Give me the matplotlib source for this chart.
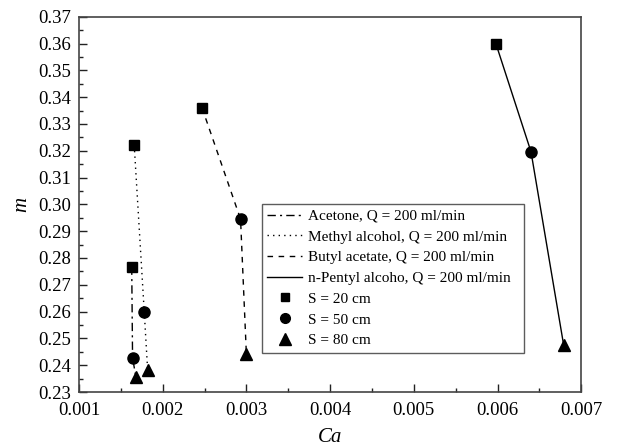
import matplotlib
matplotlib.use("Agg")
import matplotlib.pyplot as plt
from matplotlib.lines import Line2D
from matplotlib.ticker import MultipleLocator

# S = 20, 50, 80 cm for each liquid
acetone_ca = [0.00163, 0.00164, 0.00168]
acetone_m = [0.2768, 0.2428, 0.2355]
methyl_ca = [0.00166, 0.00178, 0.00182]
methyl_m = [0.3220, 0.2597, 0.2383]
butyl_ca = [0.00247, 0.00293, 0.00300]
butyl_m = [0.3360, 0.2945, 0.2440]
pentyl_ca = [0.00598, 0.00640, 0.00679]
pentyl_m = [0.3600, 0.3196, 0.2475]

series_labels = ["Acetone, Q = 200 ml/min", "Methyl alcohol, Q = 200 ml/min",
                 "Butyl acetate, Q = 200 ml/min", "n-Pentyl alcoho, Q = 200 ml/min"]
s_labels = ["S = 20 cm", "S = 50 cm", "S = 80 cm"]

plt.rcParams['font.family'] = ['Liberation Serif', 'DejaVu Serif']

fig = plt.figure(figsize=(6.19, 4.48), dpi=100)
ax = fig.add_axes([0.1276, 0.125, 0.8114, 0.8377])

markers = ["s", "o", "^"]
msizes = [7, 8, 9]
styles = [(0, (6, 3, 1.5, 3)), (0, (1, 3)), (0, (4, 4)), "-"]
data = [(acetone_ca, acetone_m), (methyl_ca, methyl_m),
        (butyl_ca, butyl_m), (pentyl_ca, pentyl_m)]

for (xs, ys), ls in zip(data, styles):
    ax.plot(xs, ys, color="black", linestyle=ls, linewidth=1.0)
    for x, y, mk, ms in zip(xs, ys, markers, msizes):
        ax.plot(x, y, marker=mk, markersize=ms, color="black", linestyle="none")

ax.set_xlim(0.001, 0.007)
ax.set_ylim(0.23, 0.37)
ax.xaxis.set_major_locator(MultipleLocator(0.001))
ax.xaxis.set_minor_locator(MultipleLocator(0.0005))
ax.yaxis.set_major_locator(MultipleLocator(0.01))
ax.yaxis.set_minor_locator(MultipleLocator(0.005))
ax.xaxis.set_major_formatter(plt.FuncFormatter(lambda v, p: "%.3f" % v))
ax.yaxis.set_major_formatter(plt.FuncFormatter(lambda v, p: "%.2f" % v))
ax.tick_params(which="both", direction="in", top=False, right=False,
               labelsize=13.5, width=1.0, colors="#222222", labelcolor="black")
ax.tick_params(axis="x", which="major", length=6, pad=7)
ax.tick_params(axis="y", which="major", length=6, pad=6)
ax.tick_params(which="minor", length=3)
for sp in ax.spines.values():
    sp.set_linewidth(1.2)
    sp.set_color("#444444")

ax.set_xlabel("Ca", fontsize=15, style="italic", labelpad=7)
ax.set_ylabel("m", fontsize=15, style="italic", labelpad=5)

handles = [Line2D([], [], color="black", linestyle=ls, linewidth=1.0) for ls in styles]
handles += [Line2D([], [], color="black", marker=mk, markersize=ms - 1, linestyle="none")
            for mk, ms in zip(markers, msizes)]
leg = ax.legend(handles, series_labels + s_labels, loc="lower left",
                bbox_to_anchor=(0.364, 0.105, 0.522, 0.396), mode="expand",
                fontsize=11, frameon=True, fancybox=False, handlelength=2.3,
                handletextpad=0.35, labelspacing=0.46, borderpad=0.35,
                borderaxespad=0)
leg.get_frame().set_edgecolor("#333333")
leg.get_frame().set_linewidth(1.0)

fig.savefig("out.png", dpi=100)
